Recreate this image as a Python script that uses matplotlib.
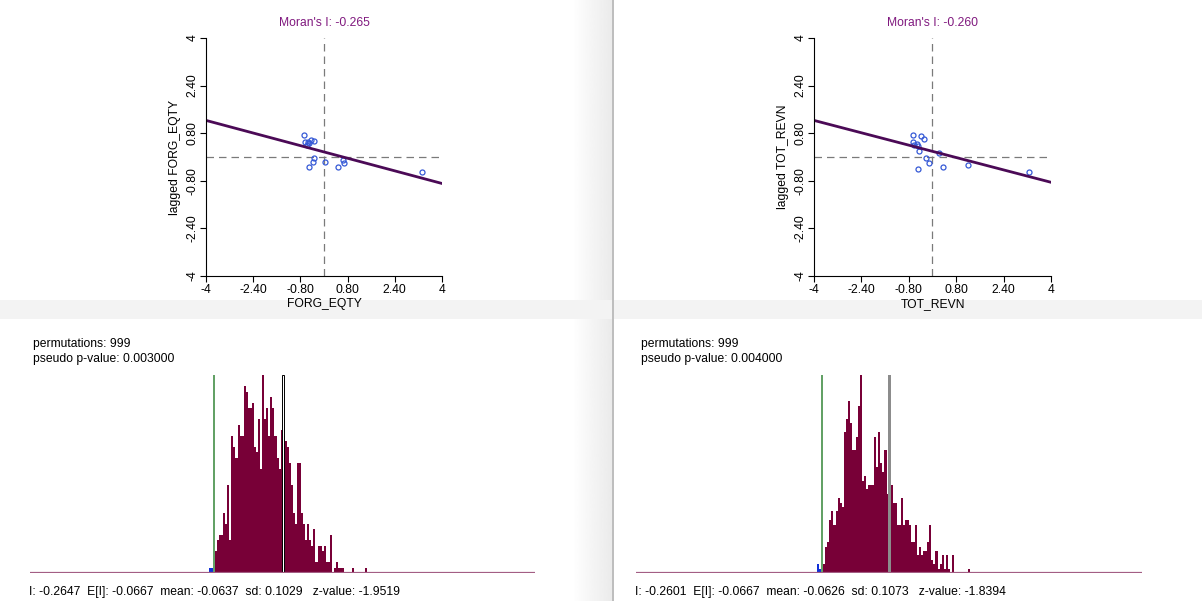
import numpy as np
import matplotlib
matplotlib.use("Agg")
import matplotlib.pyplot as plt
from matplotlib.patches import Rectangle

plt.rcParams['font.family'] = ['Liberation Sans', 'DejaVu Sans']

### Data ###

# Moran scatter plots (standardized values)
forg_x = [-0.68, -0.64, -0.59, -0.51, -0.45, -0.33, -0.55, -0.33, -0.37, -0.51, 0.03, 0.49, 0.66, 0.69, 3.31]
forg_lag = [0.74, 0.49, 0.40, 0.46, 0.57, 0.54, 0.52, -0.04, -0.16, -0.33, -0.16, -0.33, -0.10, -0.21, -0.49]
forg_I = -0.265
forg_icpt = 0.17

revn_x = [-0.67, -0.65, -0.63, -0.54, -0.48, -0.40, -0.28, -0.45, -0.23, -0.12, -0.50, 0.22, 0.35, 1.21, 3.25]
revn_lag = [0.74, 0.51, 0.40, 0.44, 0.38, 0.71, 0.59, 0.20, -0.02, -0.21, -0.39, 0.12, -0.33, -0.26, -0.49]
revn_I = -0.260
revn_icpt = 0.19

ticks = [-4, -2.4, -0.8, 0.8, 2.4, 4]
tick_labels = ["-4", "-2.40", "-0.80", "0.80", "2.40", "4"]

# permutation reference distributions (counts per bin, bin width 0.006)
bin_w = 0.006
forg_blue = [1, 1]
forg_blue_start = -0.2785
forg_counts = [4, 6, 7, 7, 11, 9, 16, 6, 25, 23, 21, 27, 25, 25, 34, 33, 30, 30, 31, 23, 22, 28,
               19, 36, 28, 30, 25, 32, 30, 25, 21, 19, 26, 25,
               24, 23, 20, 16, 11, 9, 20, 20, 11, 9, 6, 9, 6, 5, 8, 2, 5, 5, 4, 5, 2, 2, 7, 0,
               1, 2, 1, 1, 1, 0, 0, 0, 0, 1, 0, 0, 0, 0, 0, 1]
forg_start = -0.2618
forg_stats = dict(I=-0.2647, EI=-0.0667, mean=-0.0637, sd=0.1029, z=-1.9519, p=0.003)

revn_blue = [2, 1]
revn_blue_start = -0.2748
revn_counts = [2, 6, 7, 12, 14, 11, 14, 17, 16, 15, 32, 35, 39, 34, 28, 28, 31, 38, 45, 21, 22,
               19, 20, 20, 20, 31, 24, 32, 25, 23, 28, 18, 28,
               20, 16, 16, 11, 11, 17, 11, 12, 12, 11, 7, 7, 11, 4, 6, 4, 5, 5, 7, 11, 3, 2, 5,
               1, 2, 4, 1, 4, 1, 0, 4, 0, 0, 0, 0, 0, 0, 0, 1]
revn_start = -0.2563
revn_stats = dict(I=-0.2601, EI=-0.0667, mean=-0.0626, sd=0.1073, z=-1.8394, p=0.004)

permutations = 999

W, H = 1202, 601
fig = plt.figure(figsize=(W / 100, H / 100), dpi=100)
FS = 8.7


def px_axes(x0, y0, x1, y1, **kw):
    return fig.add_axes([x0 / W, 1 - y1 / H, (x1 - x0) / W, (y1 - y0) / H], **kw)


### window chrome of the screenshot ###
bg = fig.add_axes([0, 0, 1, 1], zorder=-5)
bg.add_patch(Rectangle((0, 300), W, 19, color='#f3f3f3', lw=0))
grad = np.linspace(1, 0.92, 50)[None, :]
bg.imshow(grad, extent=(572, 612, H, 0), cmap='gray', vmin=0, vmax=1, aspect='auto')
bg.plot([613, 613], [0, H], color='#bdbdbd', lw=1.4)
bg.set_xlim(0, W)
bg.set_ylim(H, 0)
bg.axis('off')

### Moran scatter plots ###


def scatter_panel(box, xs, ys, slope, icpt, name):
    ax = px_axes(*box)
    ax.set_facecolor('none')
    ax.axvline(0, color='#7a7a7a', ls=(0, (6, 4)), lw=0.9)
    ax.axhline(0, color='#7a7a7a', ls=(0, (6, 4)), lw=0.9)
    ax.plot(xs, ys, 'o', ms=3.6, mfc='none', mec='#3559d6', mew=0.9)
    xl = np.array([-4, 4])
    ax.plot(xl, icpt + slope * xl, color='#4b0a56', lw=2)
    ax.set_xlim(-4, 4)
    ax.set_ylim(-4, 4)
    ax.spines['top'].set_visible(False)
    ax.spines['right'].set_visible(False)
    ax.set_xticks(ticks)
    ax.set_xticklabels(tick_labels)
    ax.set_yticks(ticks)
    ax.set_yticklabels(tick_labels, rotation=90, va='center')
    ax.tick_params(direction='out', length=4.5, width=0.8, labelsize=FS, pad=1)
    ax.set_title("Moran's I: %.3f" % slope, color='#80197f', fontsize=FS, pad=9)
    ax.set_xlabel(name, fontsize=FS, labelpad=2)
    ax.set_ylabel("lagged " + name, fontsize=FS, labelpad=4)
    return ax


scatter_panel((206, 38, 442, 276), forg_x, forg_lag, forg_I, forg_icpt, "FORG_EQTY")
scatter_panel((814, 38, 1051, 276), revn_x, revn_lag, revn_I, revn_icpt, "TOT_REVN")

### permutation histograms ###


def hist_panel(box, xlim, start, blue_start, blue, counts, st, mean_style, tx):
    ax = px_axes(*box)
    ax.set_facecolor('none')
    edges = start + bin_w * np.arange(len(counts) + 1)
    ax.stairs(counts, edges, fill=True, color='#780037', lw=0)
    bedges = blue_start + bin_w * np.arange(len(blue) + 1)
    ax.stairs(blue, bedges, fill=True, color='#1030d8', lw=0)
    top = max(counts)
    ax.plot([st['I'], st['I']], [0, top], color='#5f9f62', lw=1.4)
    if mean_style == 'white':
        ax.bar(st['mean'], top, width=0.0055, color='white', edgecolor='black', lw=0.7)
    else:
        ax.bar(st['mean'], top, width=0.0085, color='#8c8c8c', lw=0)
    ax.axhline(0, color='#a35e84', lw=1.6)
    ax.set_xlim(*xlim)
    ax.set_ylim(0, top)
    ax.axis('off')
    fig.text(tx / W, 1 - 344 / H, "permutations: %d" % permutations, fontsize=FS, va='center')
    fig.text(tx / W, 1 - 359 / H, "pseudo p-value: %.6f" % st['p'], fontsize=FS, va='center')
    fig.text((box[0] - 1) / W, 1 - 592 / H,
             "I: %.4f  E[I]: %.4f  mean: %.4f  sd: %.4f   z-value: %.4f"
             % (st['I'], st['EI'], st['mean'], st['sd'], st['z']),
             fontsize=FS, va='center')
    return ax


hist_panel((30, 375, 535, 573), (-0.8032, 0.6747), forg_start, forg_blue_start, forg_blue,
           forg_counts, forg_stats, 'white', 33)
hist_panel((636, 375, 1142, 573), (-0.8072, 0.6811), revn_start, revn_blue_start, revn_blue,
           revn_counts, revn_stats, 'gray', 641)

plt.savefig("out.png", dpi=100)
